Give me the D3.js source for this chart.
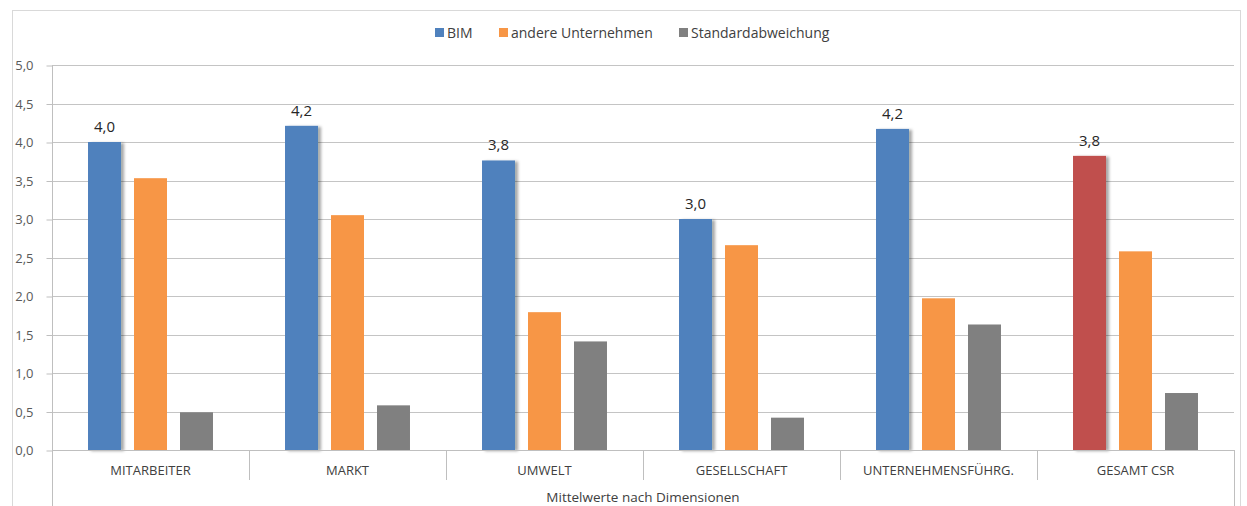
<!DOCTYPE html>
<html>
<head>
<meta charset="utf-8">
<script src="https://cdn.jsdelivr.net/npm/d3@7"></script>
<style>
  html, body { margin: 0; padding: 0; background: #fff; }
  svg { display: block; font-family: "Open Sans", "Noto Sans", sans-serif; }
</style>
</head>
<body>
<svg id="chart" width="1247" height="506"></svg>
<script>
// ---- data ----
const categories = ["MITARBEITER", "MARKT", "UMWELT", "GESELLSCHAFT", "UNTERNEHMENSFÜHRG.", "GESAMT CSR"];
const seriesNames = ["BIM", "andere Unternehmen", "Standardabweichung"];
const bimValues = [4.0, 4.21, 3.76, 3.0, 4.17, 3.82];
const andereValues = [3.53, 3.05, 1.79, 2.66, 1.97, 2.58];
const stdValues = [0.49, 0.58, 1.41, 0.42, 1.63, 0.74];
const yTicks = [0, 0.5, 1, 1.5, 2, 2.5, 3, 3.5, 4, 4.5, 5];
const axisTitle = "Mittelwerte nach Dimensionen";
const seriesColors = ["#4f81bd", "#f79646", "#808080"];
const highlightCategory = "GESAMT CSR";
const highlightColor = "#c0504d";

// ---- layout ----
const svg = d3.select("#chart");
const mLeft = 52, mRight = 1234, mTop = 65, mBottom = 450;

const x0 = d3.scaleBand().domain(categories).range([mLeft, mRight]).padding(0);
const x1 = d3.scaleBand().domain(seriesNames).range([0, x0.bandwidth()])
  .paddingInner(13 / 46).paddingOuter(0.783);
const y = d3.scaleLinear().domain([0, 5]).range([mBottom, mTop]);

const fmt = v => d3.format(".1f")(v).replace(".", ",");

// chart frame
svg.append("rect").attr("x", 12.5).attr("y", 10.5).attr("width", 1228).attr("height", 520)
  .attr("fill", "none").attr("stroke", "#d9d9d9").attr("stroke-width", 1);

// shadow filter
const defs = svg.append("defs");
const f = defs.append("filter").attr("id", "shadow").attr("x", "-20%").attr("y", "-5%").attr("width", "150%").attr("height", "115%");
f.append("feDropShadow").attr("dx", 3).attr("dy", 1).attr("stdDeviation", 1.6)
  .attr("flood-color", "#000").attr("flood-opacity", 0.35);

// gridlines
svg.append("g")
  .selectAll("line").data(yTicks.filter(d => d > 0)).join("line")
  .attr("x1", mLeft).attr("x2", mRight)
  .attr("y1", d => Math.round(y(d)) + 0.5).attr("y2", d => Math.round(y(d)) + 0.5)
  .attr("stroke", "#c4c4c4").attr("stroke-width", 1);

// y axis
const yAxis = d3.axisLeft(y).tickValues(yTicks).tickFormat(fmt).tickSize(6).tickPadding(13);
const gy = svg.append("g").attr("transform", `translate(${mLeft + 0.5},0.5)`).call(yAxis);
gy.select(".domain").attr("stroke", "#bfbfbf").attr("d", `M0,${mTop}V${mBottom}`);
gy.selectAll(".tick line").attr("stroke", "#bfbfbf");
gy.selectAll(".tick text").attr("fill", "#595959").style("font-size", "13px")
  .style("font-family", "'Open Sans', sans-serif");

// bars
const table = categories.map((c, i) => ({
  cat: c,
  vals: [bimValues[i], andereValues[i], stdValues[i]]
}));

const groups = svg.append("g").selectAll("g").data(table).join("g")
  .attr("transform", d => `translate(${x0(d.cat)},0)`);

groups.selectAll("rect").data(d => d.vals.map((v, j) => ({ cat: d.cat, s: seriesNames[j], j, v })))
  .join("rect")
  .attr("x", d => x1(d.s))
  .attr("width", x1.bandwidth())
  .attr("y", d => y(d.v))
  .attr("height", d => y(0) - y(d.v))
  .attr("fill", d => (d.j === 0 && d.cat === highlightCategory) ? highlightColor : seriesColors[d.j])
  .attr("filter", d => d.j === 0 ? "url(#shadow)" : null);

// data labels for BIM
groups.append("text")
  .attr("x", d => x1(seriesNames[0]) + x1.bandwidth() / 2)
  .attr("y", d => y(d.vals[0]) - 10)
  .attr("text-anchor", "middle")
  .attr("fill", "#262626")
  .style("font-size", "15px")
  .text(d => fmt(d.vals[0]));

// x axis line
svg.append("line").attr("x1", mLeft).attr("x2", mRight).attr("y1", mBottom + 0.5).attr("y2", mBottom + 0.5)
  .attr("stroke", "#bfbfbf");

// category separators
const seps = categories.map(c => x0(c)).concat([mRight]);
svg.append("g").selectAll("line").data(seps).join("line")
  .attr("x1", d => Math.round(d) + 0.5).attr("x2", d => Math.round(d) + 0.5)
  .attr("y1", mBottom)
  .attr("y2", (d, i) => (i === 0 || i === seps.length - 1) ? 506 : 480)
  .attr("stroke", "#bfbfbf");

// category labels
svg.append("g").selectAll("text").data(categories).join("text")
  .attr("x", d => x0(d) + x0.bandwidth() / 2)
  .attr("y", 475)
  .attr("text-anchor", "middle")
  .attr("fill", "#404040")
  .style("font-size", "13px")
  .text(d => d);

// axis title
svg.append("text").attr("x", (mLeft + mRight) / 2).attr("y", 502)
  .attr("text-anchor", "middle").attr("fill", "#404040").style("font-size", "13.5px")
  .text(axisTitle);

// legend
const legendX = [435, 499, 679];
const lg = svg.append("g").selectAll("g").data(seriesNames).join("g")
  .attr("transform", (d, i) => `translate(${legendX[i]},28)`);
lg.append("rect").attr("width", 9).attr("height", 9).attr("y", 0)
  .attr("fill", (d, i) => seriesColors[i]);
lg.append("text").attr("x", 12).attr("y", 10).attr("fill", "#404040")
  .style("font-size", "14px").text(d => d);
</script>
</body>
</html>
